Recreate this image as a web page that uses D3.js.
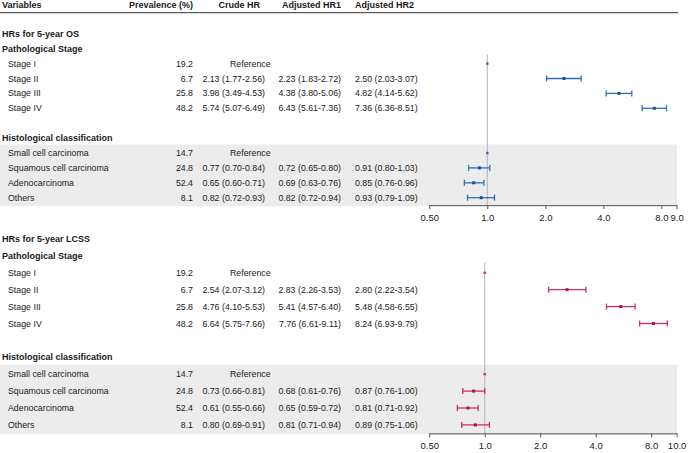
<!DOCTYPE html>
<html><head><meta charset="utf-8">
<script src="https://cdn.jsdelivr.net/npm/d3@7"></script>
<style>
html,body{margin:0;padding:0;background:#fff;}
svg text{font-family:"Liberation Sans",Arial,Helvetica,sans-serif;fill:#1a1a1a;}
</style></head>
<body>
<svg id="chart" width="690" height="453"></svg>
<script>
// ---------- DATA ----------
const headers = ["Variables", "Prevalence (%)", "Crude HR", "Adjusted HR1", "Adjusted HR2"];
const panelTitles = ["HRs for 5-year OS", "HRs for 5-year LCSS"];
const groupTitles = ["Pathological Stage", "Histological classification"];
const stageLabels = ["Stage I", "Stage II", "Stage III", "Stage IV"];
const histLabels = ["Small cell carcinoma", "Squamous cell carcinoma", "Adenocarcinoma", "Others"];
const stagePrev = [19.2, 6.7, 25.8, 48.2];
const histPrev = [14.7, 24.8, 52.4, 8.1];

// OS
const osStageCrude = ["Reference", "2.13 (1.77-2.56)", "3.98 (3.49-4.53)", "5.74 (5.07-6.49)"];
const osStageAdj1 = ["", "2.23 (1.83-2.72)", "4.38 (3.80-5.06)", "6.43 (5.61-7.36)"];
const osStageHR2 = [1, 2.50, 4.82, 7.36];
const osStageLo2 = [null, 2.03, 4.14, 6.36];
const osStageHi2 = [null, 3.07, 5.62, 8.51];
const osHistCrude = ["Reference", "0.77 (0.70-0.84)", "0.65 (0.60-0.71)", "0.82 (0.72-0.93)"];
const osHistAdj1 = ["", "0.72 (0.65-0.80)", "0.69 (0.63-0.76)", "0.82 (0.72-0.94)"];
const osHistHR2 = [1, 0.91, 0.85, 0.93];
const osHistLo2 = [null, 0.80, 0.76, 0.79];
const osHistHi2 = [null, 1.03, 0.96, 1.09];

// LCSS
const lcStageCrude = ["Reference", "2.54 (2.07-3.12)", "4.76 (4.10-5.53)", "6.64 (5.75-7.66)"];
const lcStageAdj1 = ["", "2.83 (2.26-3.53)", "5.41 (4.57-6.40)", "7.76 (6.61-9.11)"];
const lcStageHR2 = [1, 2.80, 5.48, 8.24];
const lcStageLo2 = [null, 2.22, 4.58, 6.93];
const lcStageHi2 = [null, 3.54, 6.55, 9.79];
const lcHistCrude = ["Reference", "0.73 (0.66-0.81)", "0.61 (0.55-0.66)", "0.80 (0.69-0.91)"];
const lcHistAdj1 = ["", "0.68 (0.61-0.76)", "0.65 (0.59-0.72)", "0.81 (0.71-0.94)"];
const lcHistHR2 = [1, 0.87, 0.81, 0.89];
const lcHistLo2 = [null, 0.76, 0.71, 0.75];
const lcHistHi2 = [null, 1.00, 0.92, 1.06];

// axes
const osTickValues = [0.5, 1, 2, 4, 8];
const osTickLabels = ["0.50", "1.0", "2.0", "4.0", "8.0", "9.0"];
const osAxisMax = 9.6;
const lcTickValues = [0.5, 1, 2, 4, 8];
const lcTickLabels = ["0.50", "1.0", "2.0", "4.0", "8.0", "10.0"];
const lcAxisMax = 11;

// ---------- BUILD ----------
const svg = d3.select("#chart");
const fmt = d3.format(".2f");
const W = 690;
const BODY = 8.8, BOLD = 9;
const colX = {varTitle: 2, varItem: 8, prev: 193, crude: 265, refStart: 230, adj1: 341, adj2: 355};
const plotL = 429.3, plotR = 676.6;

// header
const hdr = svg.append("g");
hdr.append("text").attr("x", colX.varTitle).attr("y", 4.6).attr("dy", "0.35em").attr("font-weight", "bold").attr("font-size", BOLD).text(headers[0]);
hdr.append("text").attr("x", colX.prev).attr("y", 4.6).attr("dy", "0.35em").attr("text-anchor", "end").attr("font-weight", "bold").attr("font-size", BOLD).text(headers[1]);
hdr.append("text").attr("x", colX.crude - 5).attr("y", 4.6).attr("dy", "0.35em").attr("text-anchor", "end").attr("font-weight", "bold").attr("font-size", BOLD).text(headers[2]);
hdr.append("text").attr("x", colX.adj1).attr("y", 4.6).attr("dy", "0.35em").attr("text-anchor", "end").attr("font-weight", "bold").attr("font-size", BOLD).text(headers[3]);
hdr.append("text").attr("x", colX.adj2).attr("y", 4.6).attr("dy", "0.35em").attr("font-weight", "bold").attr("font-size", BOLD).text(headers[4]);
hdr.append("line").attr("x1", 0).attr("x2", 678).attr("y1", 12.7).attr("y2", 12.7).attr("stroke", "#333").attr("stroke-width", 1);

function panel(cfg) {
  const g = svg.append("g");
  const row = i => cfg.y0 + i * cfg.step;
  const x = d3.scaleLog().domain([0.5, cfg.axisMax]).range([plotL, plotR]);

  // rows: 0 title, 1 group1, 2-5 stages, 6 blank, 7 group2, 8-11 hist
  const axisY = row(11) + cfg.step / 2;
  // gray band behind histology rows
  g.append("rect").attr("x", 0).attr("width", 677)
    .attr("y", row(7) + cfg.step / 2 - 1).attr("height", axisY - (row(7) + cfg.step / 2 - 1) + 1)
    .attr("fill", "#ececec");

  g.append("text").attr("x", colX.varTitle).attr("y", row(0)).attr("dy", "0.35em").attr("font-weight", "bold").attr("font-size", BOLD).text(cfg.title);
  g.append("text").attr("x", colX.varTitle).attr("y", row(1)).attr("dy", "0.35em").attr("font-weight", "bold").attr("font-size", BOLD).text(groupTitles[0]);
  g.append("text").attr("x", colX.varTitle).attr("y", row(7)).attr("dy", "0.35em").attr("font-weight", "bold").attr("font-size", BOLD).text(groupTitles[1]);

  const items = [];
  stageLabels.forEach((l, i) => items.push({r: 2 + i, label: l, prev: stagePrev[i], crude: cfg.stageCrude[i], adj1: cfg.stageAdj1[i], hr: cfg.stageHR2[i], lo: cfg.stageLo2[i], hi: cfg.stageHi2[i]}));
  histLabels.forEach((l, i) => items.push({r: 8 + i, label: l, prev: histPrev[i], crude: cfg.histCrude[i], adj1: cfg.histAdj1[i], hr: cfg.histHR2[i], lo: cfg.histLo2[i], hi: cfg.histHi2[i]}));

  // reference line at 1
  g.append("line").attr("x1", x(1)).attr("x2", x(1)).attr("y1", row(1) + cfg.step * 0.4).attr("y2", axisY)
    .attr("stroke", "#b3b3b3").attr("stroke-width", 1);

  items.forEach(d => {
    const y = row(d.r);
    g.append("text").attr("x", colX.varItem).attr("y", y).attr("dy", "0.35em").attr("font-size", BODY).text(d.label);
    g.append("text").attr("x", colX.prev).attr("y", y).attr("dy", "0.35em").attr("text-anchor", "end").attr("font-size", BODY).text(d.prev.toFixed(1));
    if (d.crude === "Reference") {
      g.append("text").attr("x", colX.refStart).attr("y", y).attr("dy", "0.35em").attr("font-size", BODY).text(d.crude);
    } else {
      g.append("text").attr("x", colX.crude).attr("y", y).attr("dy", "0.35em").attr("text-anchor", "end").attr("font-size", BODY).text(d.crude);
    }
    if (d.adj1) g.append("text").attr("x", colX.adj1).attr("y", y).attr("dy", "0.35em").attr("text-anchor", "end").attr("font-size", BODY).text(d.adj1);
    if (d.lo != null) {
      g.append("text").attr("x", colX.adj2).attr("y", y).attr("dy", "0.35em").attr("font-size", BODY)
        .text(`${fmt(d.hr)} (${fmt(d.lo)}-${fmt(d.hi)})`);
      g.append("line").attr("x1", x(d.lo)).attr("x2", x(d.hi)).attr("y1", y).attr("y2", y).attr("stroke", cfg.color).attr("stroke-width", 1.3);
      [d.lo, d.hi].forEach(v => g.append("line").attr("x1", x(v)).attr("x2", x(v)).attr("y1", y - 3).attr("y2", y + 3).attr("stroke", cfg.color).attr("stroke-width", 1.3));
      g.append("rect").attr("x", x(d.hr) - 1.5).attr("y", y - 1.5).attr("width", 3).attr("height", 3).attr("fill", cfg.dark);
    } else {
      g.append("rect").attr("x", x(d.hr) - 1.2).attr("y", y - 1.2).attr("width", 2.4).attr("height", 2.4).attr("fill", cfg.color);
    }
  });

  // axis
  const tv = cfg.tickValues.concat([cfg.axisMax]);
  const axis = d3.axisBottom(x).tickValues(tv).tickSize(4).tickSizeOuter(0)
    .tickFormat((v, i) => cfg.tickLabels[i]);
  const ag = g.append("g").attr("transform", `translate(0,${axisY})`).call(axis);
  ag.select(".domain").attr("stroke", "#555");
  ag.selectAll(".tick line").attr("stroke", "#555");
  ag.selectAll(".tick text").attr("font-size", 9.5).attr("font-family", "Liberation Sans, Arial, sans-serif").attr("fill", "#222").attr("dy", "0.9em");
}

panel({
  title: panelTitles[0], y0: 33.8, step: 14.9, axisMax: osAxisMax, color: "#2f6fb8", dark: "#1d4f91",
  stageCrude: osStageCrude, stageAdj1: osStageAdj1, stageHR2: osStageHR2, stageLo2: osStageLo2, stageHi2: osStageHi2,
  histCrude: osHistCrude, histAdj1: osHistAdj1, histHR2: osHistHR2, histLo2: osHistLo2, histHi2: osHistHi2,
  tickValues: osTickValues, tickLabels: osTickLabels
});
panel({
  title: panelTitles[1], y0: 239, step: 16.9, axisMax: lcAxisMax, color: "#d0305a", dark: "#a3163e",
  stageCrude: lcStageCrude, stageAdj1: lcStageAdj1, stageHR2: lcStageHR2, stageLo2: lcStageLo2, stageHi2: lcStageHi2,
  histCrude: lcHistCrude, histAdj1: lcHistAdj1, histHR2: lcHistHR2, histLo2: lcHistLo2, histHi2: lcHistHi2,
  tickValues: lcTickValues, tickLabels: lcTickLabels
});
</script>
</body></html>
